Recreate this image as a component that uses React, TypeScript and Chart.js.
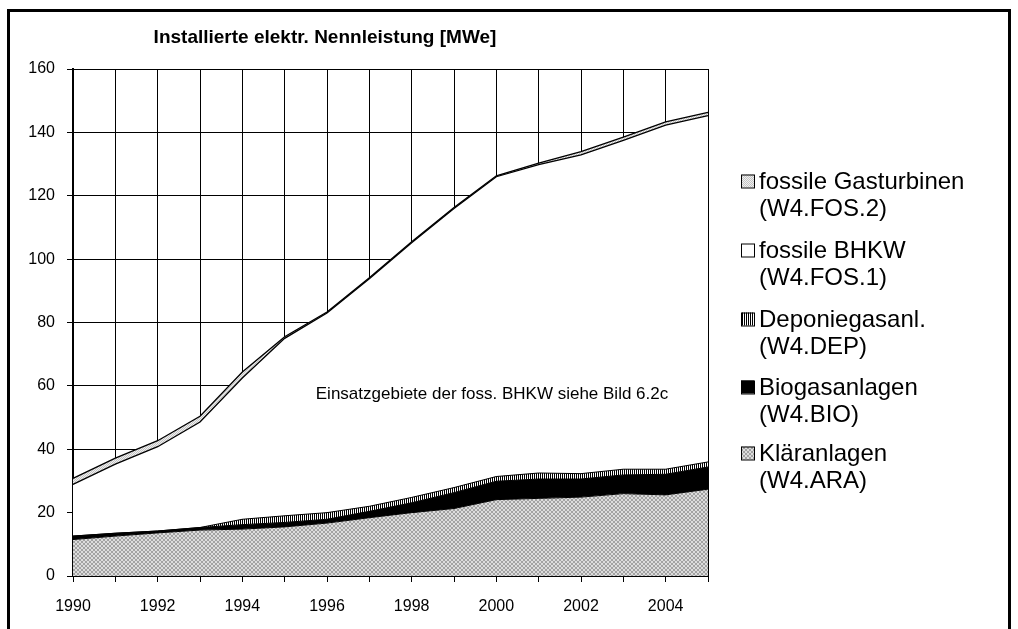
import React, { useEffect, useRef } from "react";
import { Chart, registerables } from "chart.js";

Chart.register(...registerables);

const years = ["1990", "1991", "1992", "1993", "1994", "1995", "1996", "1997", "1998", "1999", "2000", "2001", "2002", "2003", "2004", "2005"];
const araValues = [11.5, 12.6, 13.6, 14.5, 14.8, 15.5, 16.7, 18.4, 20.0, 21.3, 24.1, 24.5, 24.9, 26.0, 25.6, 27.4];
const bioValues = [1.1, 0.9, 0.6, 0.8, 1.4, 1.4, 1.2, 2.0, 3.1, 5.0, 5.8, 6.1, 5.7, 5.9, 6.5, 7.0];
const depValues = [0, 0, 0, 0, 1.7, 2.1, 2.1, 1.6, 1.7, 1.6, 1.5, 1.9, 1.7, 1.8, 1.6, 1.6];
const fos1Values = [16.3, 21.8, 26.6, 33.3, 44.6, 56.0, 63.0, 71.8, 80.4, 88.1, 94.6, 97.3, 100.6, 103.8, 108.6, 109.3];
const fos2Values = [1.9, 1.9, 1.9, 1.8, 1.9, 0.5, 0.3, 0.3, 0.3, 0.3, 0.3, 0.5, 1.0, 1.0, 1.0, 1.0];

const legendLabels = [
  ["fossile Gasturbinen", "(W4.FOS.2)"],
  ["fossile BHKW", "(W4.FOS.1)"],
  ["Deponiegasanl.", "(W4.DEP)"],
  ["Biogasanlagen", "(W4.BIO)"],
  ["Kläranlagen", "(W4.ARA)"],
];
const titleText = "Installierte elektr. Nennleistung [MWe]";
const noteText = "Einsatzgebiete der foss. BHKW siehe Bild 6.2c";
const yMin = 0;
const yMax = 160;
const yStep = 20;

const FONT = "'Liberation Sans', Arial, sans-serif";

function makePattern(kind: string): CanvasPattern | string {
  const c = document.createElement("canvas");
  const ctx = c.getContext("2d")!;
  if (kind === "ara") {
    c.width = 4; c.height = 4;
    ctx.fillStyle = "#dcdcdc";
    ctx.fillRect(0, 0, 4, 4);
    ctx.fillStyle = "#a2a2a2";
    for (let i = 0; i < 4; i++) {
      ctx.fillRect(i, i, 1, 1);
      ctx.fillRect(3 - i, i, 1, 1);
    }
  } else if (kind === "dep") {
    c.width = 2; c.height = 2;
    ctx.fillStyle = "#ffffff";
    ctx.fillRect(0, 0, 2, 2);
    ctx.fillStyle = "#000000";
    ctx.fillRect(0, 0, 1, 2);
  } else {
    c.width = 2; c.height = 2;
    ctx.fillStyle = "#f0f0f0";
    ctx.fillRect(0, 0, 2, 2);
    ctx.fillStyle = "#c4c4c4";
    ctx.fillRect(0, 0, 1, 1);
    ctx.fillRect(1, 1, 1, 1);
  }
  return ctx.createPattern(c, "repeat") as CanvasPattern;
}

export default function App() {
  const ref = useRef<HTMLCanvasElement>(null);

  useEffect(() => {
    if (!ref.current) return;
    const araFill = makePattern("ara");
    const depFill = makePattern("dep");
    const fos2Fill = makePattern("fos2");
    const legendFills: any[] = [fos2Fill, "#ffffff", depFill, "#000000", araFill];
    const legendY = [181, 250, 319, 387, 453];

    const decor = {
      id: "decor",
      afterDraw(chart: any) {
        const ctx = chart.ctx;
        ctx.save();
        // frame
        ctx.fillStyle = "#000";
        ctx.fillRect(7, 9, 1004, 3);
        ctx.fillRect(7, 9, 3, 640);
        ctx.fillRect(1008, 9, 3, 640);
        // title
        ctx.font = `bold 19px ${FONT}`;
        ctx.textAlign = "center";
        ctx.textBaseline = "middle";
        ctx.fillText(titleText, 325, 38);
        // note
        ctx.font = `17px ${FONT}`;
        ctx.fillText(noteText, 492, 394);
        // legend
        ctx.textAlign = "left";
        ctx.font = `24px ${FONT}`;
        legendLabels.forEach((lines, i) => {
          const y0 = legendY[i];
          ctx.fillStyle = legendFills[i];
          ctx.fillRect(741, y0 - 6.5, 13, 13);
          ctx.strokeStyle = "#000";
          ctx.lineWidth = 1;
          ctx.strokeRect(741.5, y0 - 6, 13, 13);
          ctx.fillStyle = "#000";
          ctx.fillText(lines[0], 759, y0 + 1);
          ctx.fillText(lines[1], 759, y0 + 28);
        });
        ctx.restore();
      },
    };

    const base = {
      borderColor: "#000000",
      borderWidth: 1,
      pointRadius: 0,
      tension: 0,
    };

    const chart = new Chart(ref.current, {
      type: "line",
      data: {
        labels: years,
        datasets: [
          { ...base, label: "Kläranlagen (W4.ARA)", data: araValues, backgroundColor: araFill, fill: "origin" },
          { ...base, label: "Biogasanlagen (W4.BIO)", data: bioValues, backgroundColor: "#000000", fill: "-1" },
          { ...base, label: "Deponiegasanl. (W4.DEP)", data: depValues, backgroundColor: depFill, fill: "-1" },
          { ...base, label: "fossile BHKW (W4.FOS.1)", data: fos1Values, backgroundColor: "#ffffff", fill: "-1", borderWidth: 1.3 },
          { ...base, label: "fossile Gasturbinen (W4.FOS.2)", data: fos2Values, backgroundColor: fos2Fill, fill: "-1", borderWidth: 1.3 },
        ] as any,
      },
      options: {
        animation: false,
        responsive: false,
        maintainAspectRatio: false,
        layout: { padding: { left: 0, top: 69, right: 310, bottom: 0 } },
        plugins: {
          legend: { display: false },
          title: { display: false },
          tooltip: { enabled: false },
        },
        scales: {
          x: {
            type: "category",
            offset: false,
            grid: { color: "#000", lineWidth: 1, tickLength: 6, drawOnChartArea: true },
            border: { display: true, color: "#000", width: 2 },
            ticks: {
              autoSkip: false,
              maxRotation: 0,
              color: "#000",
              padding: 15,
              font: { family: FONT, size: 16 },
              callback: (_v: any, i: number) => (i % 2 === 0 ? years[i] : ""),
            },
            afterFit: (s: any) => { s.height = 53; },
          },
          y: {
            stacked: true,
            min: yMin,
            max: yMax,
            grid: { color: "#000", lineWidth: 1, tickLength: 6 },
            border: { display: true, color: "#000", width: 2 },
            ticks: {
              stepSize: yStep,
              color: "#000",
              padding: 12,
              font: { family: FONT, size: 16 },
            },
            afterFit: (s: any) => { s.width = 73; },
          },
        },
      } as any,
      plugins: [decor],
    });
    return () => chart.destroy();
  }, []);

  return (
    <div style={{ position: "fixed", left: 0, top: 0, width: 1018, height: 629, background: "#fff" }}>
      <canvas ref={ref} width={1018} height={629} style={{ display: "block" }} />
    </div>
  );
}
